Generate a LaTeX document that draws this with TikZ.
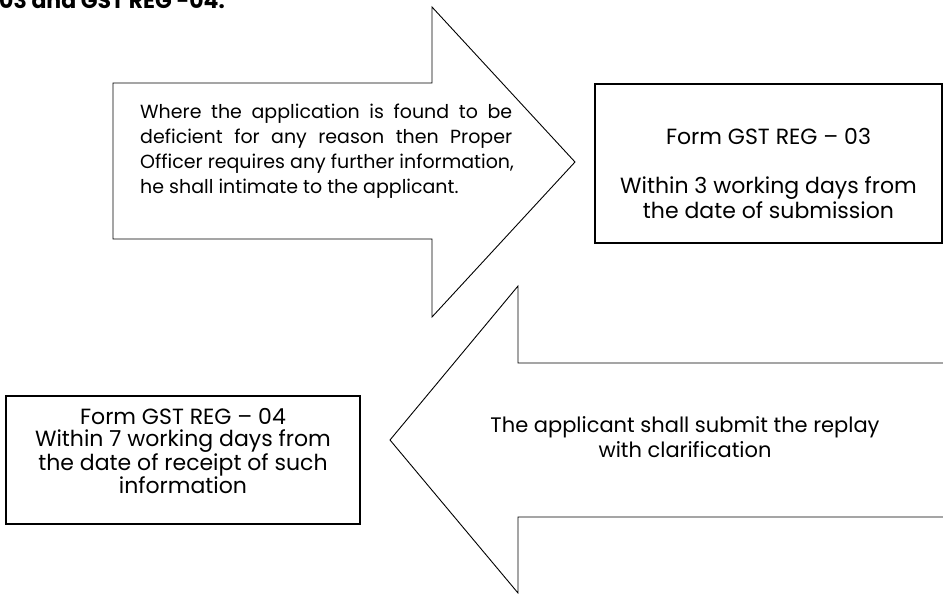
\documentclass[tikz,border=0pt]{standalone}
\usepackage{fontspec}
\setmainfont{Poppins}
\usetikzlibrary{positioning}

\begin{document}
\begin{tikzpicture}[
    x=1pt, y=-1pt,
    blockarrow/.style={draw, line width=0.9pt, line join=miter},
    formbox/.style={rectangle, draw, line width=1.3pt, inner sep=0pt},
    boxtext/.style={inner sep=0pt, align=center, font=\fontsize{22}{22}\selectfont},
    arrowtext/.style={inner sep=0pt, font=\fontsize{21}{25}\selectfont}
  ]
    \useasboundingbox (0,0) rectangle (943,594);
    % heading, cut at the top of the page
    \node[anchor=base west, inner sep=0pt, font=\bfseries\fontsize{22}{24}\selectfont] (heading) at (-1,9) {03 and GST REG -04:};
    % arrow to the right
    \draw[blockarrow] (113,83) -- (432,83) -- (432,7) -- (575,162) -- (432,317) -- (432,239) -- (113,239) -- cycle;
    \node[arrowtext, font=\fontsize{19}{25}\selectfont, align=left, anchor=west] (deficient) at (140,151) {%
      \makebox[372pt][s]{Where the application is found to be}\\
      \makebox[372pt][s]{deficient for any reason then Proper}\\
      Officer requires any further information,\\
      he shall intimate to the applicant.};
    % form 03
    \node[formbox, minimum width=347pt, minimum height=159pt] (reg03) at (768.5,163.5) {};
    \node[boxtext, font=\fontsize{22}{25}\selectfont, yshift=-10pt] (reg03text) at (reg03.center) {Form GST REG -- 03\\[24pt] Within 3 working days from\\ the date of submission};
    % arrow to the left
    \draw[blockarrow] (960,363) -- (518,363) -- (518,286) -- (390,440) -- (518,593) -- (518,517) -- (960,517);
    \node[arrowtext, align=center] (replay) at (685,437) {The applicant shall submit the replay\\ with clarification};
    % form 04
    \node[formbox, minimum width=354pt, minimum height=128pt] (reg04) at (183,460) {};
    \node[boxtext, yshift=9pt] (reg04text) at (reg04.center) {Form GST REG -- 04\\ Within 7 working days from\\ the date of receipt of such\\ information};
  \end{tikzpicture}
\end{document}
